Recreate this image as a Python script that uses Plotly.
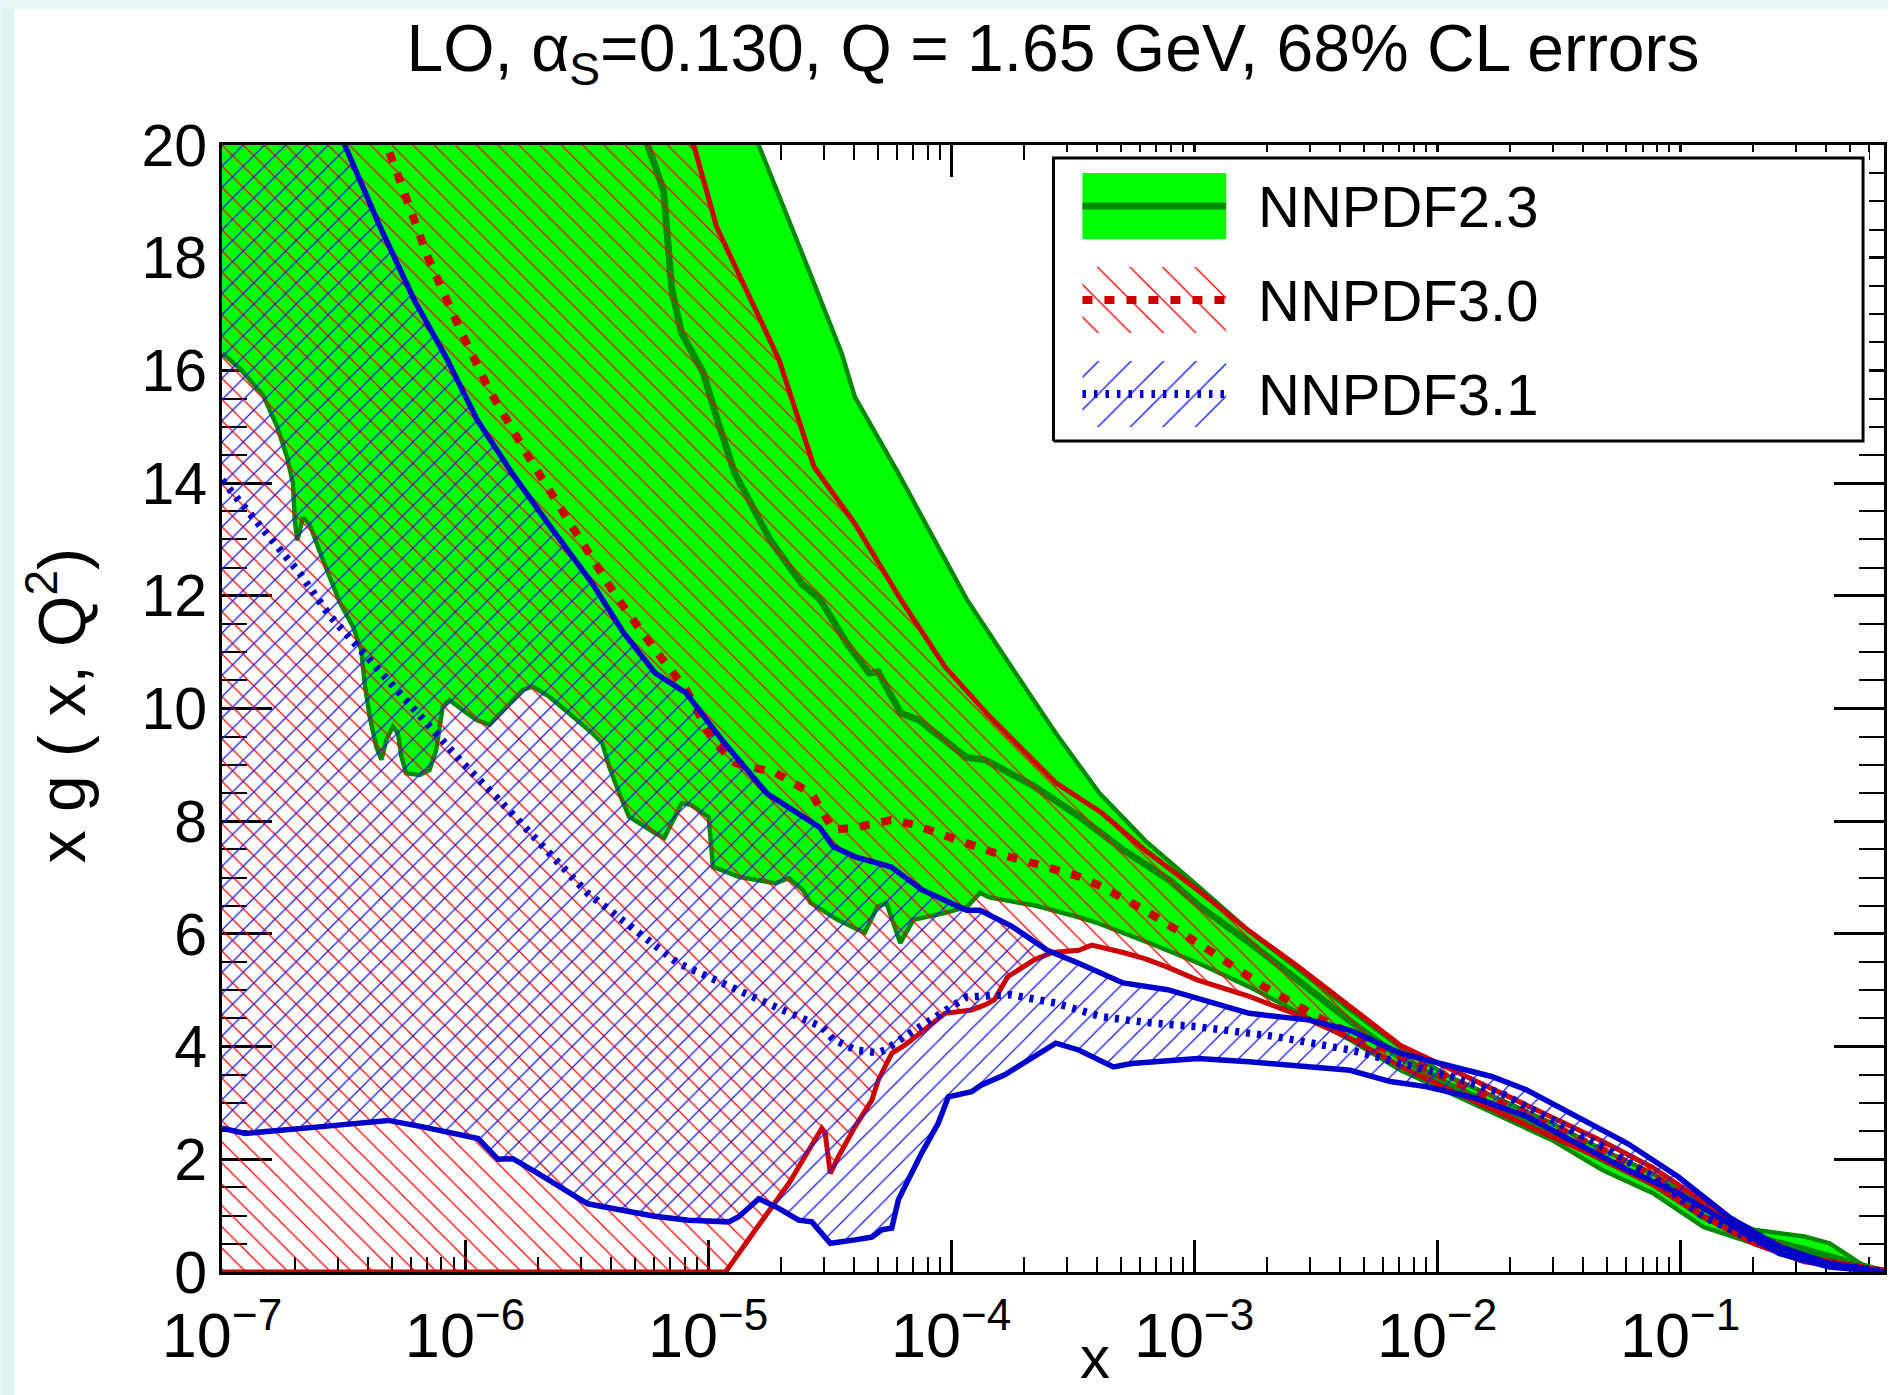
import math
import plotly.graph_objects as go

# ---------------- data : log10(x) and x*g(x,Q^2) ----------------
# NNPDF2.3 (green band)
g23_lo_lx = [-7.0, -6.926, -6.831, -6.774, -6.733, -6.708, -6.700, -6.690, -6.667, -6.639, -6.585, -6.516,
             -6.461, -6.427, -6.413, -6.392, -6.365, -6.344, -6.324, -6.297, -6.276, -6.262, -6.242, -6.187,
             -6.146, -6.119, -6.092, -6.064, -6.009, -5.954, -5.900, -5.831, -5.763, -5.722, -5.654, -5.571,
             -5.476, -5.435, -5.407, -5.366, -5.325, -5.218, -5.181, -5.108, -5.071, -4.997, -4.980, -4.870,
             -4.722, -4.668, -4.610, -4.578, -4.467, -4.356, -4.303, -4.266, -4.209, -4.155, -4.028, -3.934,
             -3.880, -3.843, -3.650, -3.478, -3.396, -3.190, -2.981, -2.773, -2.565, -2.358, -2.150, -1.943,
             -1.735, -1.527, -1.320, -1.112, -0.904, -0.697, -0.489, -0.160]
g23_lo_y = [16.31, 16.03, 15.56, 15.01, 14.47, 14.00, 13.32, 12.98, 13.39, 13.26, 12.64, 11.89,
            11.45, 11.04, 10.45, 9.85, 9.32, 9.09, 9.44, 9.68, 9.56, 9.15, 8.85, 8.82,
            8.91, 9.26, 10.03, 10.15, 9.97, 9.80, 9.71, 10.03, 10.33, 10.39, 10.21, 9.91,
            9.56, 9.38, 8.97, 8.50, 8.08, 7.79, 7.70, 8.32, 8.29, 8.07, 7.19, 7.01,
            6.90, 6.99, 6.78, 6.55, 6.25, 6.02, 6.48, 6.55, 5.84, 6.25, 6.37, 6.48,
            6.73, 6.65, 6.50, 6.30, 6.19, 5.85, 5.48, 5.06, 4.59, 4.12, 3.58, 3.17,
            2.76, 2.34, 1.81, 1.40, 0.80, 0.51, 0.21, 0.00]
g23_up_lx = [-7.0, -6.0, -5.3, -4.95, -4.792, -4.728, -4.579, -4.450, -4.396, -4.218, -3.936, -3.752,
             -3.569, -3.390, -3.200, -2.985, -2.773, -2.565, -2.358, -2.150, -1.943, -1.735, -1.527,
             -1.320, -1.112, -0.904, -0.697, -0.489, -0.385, -0.240, -0.160]
g23_up_y = [75.0, 42.0, 27.0, 21.8, 20.0, 19.32, 17.71, 16.30, 15.53, 14.18, 11.94, 10.74,
            9.56, 8.50, 7.65, 6.85, 6.05, 5.35, 4.65, 3.98, 3.45, 3.05, 2.64,
            2.17, 1.75, 1.16, 0.75, 0.63, 0.51, 0.10, 0.00]
g23_c_lx = [-7.0, -6.2, -5.6, -5.248, -5.183, -5.149, -5.109, -5.020, -4.965, -4.891, -4.743, -4.614,
            -4.540, -4.431, -4.337, -4.300, -4.208, -4.134, -3.936, -3.861, -3.658, -3.475, -3.292,
            -3.100, -2.981, -2.773, -2.565, -2.358, -2.150, -1.943, -1.735, -1.527, -1.320, -1.112,
            -0.904, -0.697, -0.489, -0.160]
g23_c_y = [42.0, 29.0, 22.5, 20.0, 19.19, 17.43, 16.66, 15.96, 15.17, 14.18, 12.98, 12.21,
           11.94, 11.17, 10.63, 10.65, 9.92, 9.80, 9.13, 9.09, 8.62, 8.09, 7.49,
           6.95, 6.50, 5.85, 5.15, 4.45, 3.80, 3.30, 2.90, 2.50, 2.00, 1.58,
           0.98, 0.63, 0.40, 0.00]

# NNPDF3.0 (red hatched band)
r30_up_lx = [-7.0, -6.0, -5.4, -5.059, -4.965, -4.708, -4.564, -4.396, -4.208, -4.025, -3.842, -3.569,
             -3.381, -3.203, -2.985, -2.773, -2.565, -2.358, -2.150, -1.943, -1.735, -1.527, -1.320,
             -1.112, -0.904, -0.697, -0.489, -0.160]
r30_up_y = [55.0, 33.0, 23.5, 20.0, 18.55, 16.19, 14.29, 13.28, 11.94, 10.74, 9.86, 8.68,
            8.15, 7.49, 6.78, 6.05, 5.40, 4.70, 4.02, 3.60, 3.18, 2.74, 2.32,
            1.85, 1.25, 0.68, 0.27, 0.02]
r30_lo_lx = [-7.0, -4.928, -4.805, -4.668, -4.532, -4.518, -4.497, -4.463, -4.395, -4.326, -4.299, -4.244,
             -4.189, -4.080, -4.025, -3.916, -3.861, -3.822, -3.767, -3.658, -3.584, -3.475, -3.421,
             -3.292, -3.203, -3.109, -2.985, -2.773, -2.565, -2.358, -2.150, -1.943, -1.735, -1.527,
             -1.320, -1.112, -0.904, -0.697, -0.489, -0.160]
r30_lo_y = [0.0, 0.0, 0.75, 1.57, 2.55, 2.46, 1.75, 2.05, 2.58, 3.05, 3.41, 3.88,
            4.03, 4.41, 4.59, 4.65, 4.74, 4.83, 5.24, 5.54, 5.67, 5.71, 5.80,
            5.67, 5.56, 5.41, 5.18, 4.89, 4.55, 4.15, 3.65, 3.22, 2.80, 2.40,
            2.00, 1.55, 0.98, 0.50, 0.18, 0.00]
r30_c_lx = [-7.0, -6.6, -6.322, -6.228, -6.153, -6.025, -5.901, -5.738, -5.569, -5.380, -5.218, -5.089,
            -4.980, -4.886, -4.723, -4.574, -4.485, -4.391, -4.248, -4.153, -3.970, -3.822, -3.658,
            -3.475, -3.381, -3.203, -2.985, -2.711, -2.462, -2.150, -1.943, -1.735, -1.527, -1.320,
            -1.112, -0.904, -0.697, -0.489, -0.160]
r30_c_y = [34.0, 25.0, 20.0, 18.91, 18.01, 16.77, 15.66, 14.46, 13.28, 12.00, 11.04, 10.33,
           9.43, 9.03, 8.86, 8.49, 7.85, 7.89, 8.02, 7.94, 7.66, 7.44, 7.25,
           7.02, 6.84, 6.42, 5.84, 5.06, 4.45, 3.83, 3.41, 2.99, 2.57, 2.16,
           1.70, 1.11, 0.59, 0.22, 0.01]

# NNPDF3.1 (blue hatched band)
b31_up_lx = [-7.0, -6.75, -6.495, -6.356, -6.208, -6.079, -5.950, -5.807, -5.658, -5.475, -5.347, -5.218,
             -5.089, -4.941, -4.757, -4.540, -4.485, -4.391, -4.248, -4.119, -3.936, -3.881, -3.752,
             -3.604, -3.475, -3.292, -3.109, -2.985, -2.773, -2.524, -2.358, -2.150, -1.943, -1.776,
             -1.631, -1.424, -1.216, -1.008, -0.800, -0.593, -0.385, -0.160]
b31_up_y = [34.0, 25.0, 20.0, 18.61, 17.24, 16.24, 15.12, 14.18, 13.28, 12.21, 11.34, 10.63,
            10.27, 9.43, 8.49, 7.89, 7.55, 7.36, 7.19, 6.78, 6.42, 6.42, 6.14,
            5.71, 5.48, 5.13, 5.01, 4.86, 4.59, 4.47, 4.29, 3.88, 3.64, 3.47,
            3.23, 2.76, 2.28, 1.69, 0.98, 0.45, 0.15, 0.00]
b31_lo_lx = [-7.0, -6.904, -6.589, -6.316, -6.179, -5.946, -5.864, -5.803, -5.700, -5.495, -5.358, -5.221,
             -5.079, -4.915, -4.874, -4.791, -4.709, -4.627, -4.573, -4.497, -4.395, -4.326, -4.285,
             -4.244, -4.217, -4.121, -4.053, -4.011, -3.916, -3.875, -3.779, -3.642, -3.569, -3.475,
             -3.332, -3.257, -3.144, -2.985, -2.773, -2.358, -2.192, -2.046, -1.839, -1.631, -1.424,
             -1.216, -1.008, -0.800, -0.593, -0.385, -0.160]
b31_lo_y = [2.55, 2.46, 2.58, 2.69, 2.58, 2.37, 2.00, 2.01, 1.75, 1.21, 1.10, 0.99,
            0.92, 0.89, 0.98, 1.30, 1.13, 0.92, 0.89, 0.51, 0.57, 0.62, 0.75,
            0.78, 1.28, 2.11, 2.64, 3.11, 3.20, 3.32, 3.50, 3.85, 4.06, 3.94,
            3.64, 3.70, 3.74, 3.79, 3.73, 3.58, 3.38, 3.29, 3.08, 2.76, 2.28,
            1.81, 1.40, 0.86, 0.33, 0.09, 0.00]
b31_c_lx = [-7.0, -6.953, -6.817, -6.680, -6.557, -6.420, -6.283, -6.146, -6.009, -5.872, -5.736, -5.626,
            -5.495, -5.124, -4.757, -4.532, -4.485, -4.395, -4.302, -4.271, -4.208, -4.080, -3.936,
            -3.752, -3.569, -3.381, -3.203, -2.981, -2.669, -2.358, -2.150, -1.943, -1.735, -1.527,
            -1.320, -1.112, -0.904, -0.697, -0.489, -0.160]
b31_c_y = [14.05, 13.80, 13.12, 12.40, 11.65, 11.00, 10.33, 9.68, 9.03, 8.43, 7.79, 7.31,
           6.72, 5.48, 4.77, 4.35, 4.13, 3.94, 3.89, 3.94, 4.13, 4.47, 4.88,
           4.92, 4.77, 4.53, 4.43, 4.35, 4.18, 3.94, 3.70, 3.47, 3.17, 2.70,
           2.23, 1.69, 0.98, 0.57, 0.21, 0.00]

# axis ticks / labels
x_tick_vals = [1e-7, 1e-6, 1e-5, 1e-4, 1e-3, 1e-2, 1e-1]
x_tick_text = ["10<sup>\u22127</sup>", "10<sup>\u22126</sup>", "10<sup>\u22125</sup>", "10<sup>\u22124</sup>",
               "10<sup>\u22123</sup>", "10<sup>\u22122</sup>", "10<sup>\u22121</sup>"]
x_max = 0.69
legend_names = ["NNPDF2.3", "NNPDF3.0", "NNPDF3.1"]
title_text = "LO, \u03b1<sub>S</sub>=0.130, Q = 1.65 GeV, 68% CL errors"

# ---------------- styles ----------------
GREEN = "#00FF00"
DGREEN = "#008A00"
RED = "#CC0000"
HRED = "#FF0000"
BLUE = "#0000CC"
HBLUE = "#1414FF"
FONT = "Liberation Sans, Arial, Helvetica, sans-serif"

W, H = 1891, 1395
L, R, T, B = 222, 4, 145, 123
PW, PH = W - L - R, H - T - B


def xs(lx):
    return [10 ** v for v in lx]


def band(lo_lx, lo_y, up_lx, up_y):
    return xs(lo_lx) + xs(up_lx)[::-1], lo_y + up_y[::-1]


fig = go.Figure()


def line(lx, y, color, width, dash="solid"):
    fig.add_trace(go.Scatter(x=xs(lx), y=y, mode="lines", line=dict(color=color, width=width, dash=dash),
                             hoverinfo="skip", showlegend=False))


def hatch(shape, color, size, solidity):
    return dict(shape=shape, fgcolor=color, bgcolor="rgba(0,0,0,0)", size=size, solidity=solidity,
                fillmode="replace")


# NNPDF2.3
bx, by = band(g23_lo_lx, g23_lo_y, g23_up_lx, g23_up_y)
fig.add_trace(go.Scatter(x=bx, y=by, fill="toself", fillcolor=GREEN, mode="lines",
                         line=dict(width=0, color=GREEN), hoverinfo="skip", showlegend=False))
line(g23_lo_lx, g23_lo_y, DGREEN, 4.5)
line(g23_up_lx, g23_up_y, DGREEN, 4.5)
line(g23_c_lx, g23_c_y, DGREEN, 7)

# NNPDF3.0
bx, by = band(r30_lo_lx, r30_lo_y, r30_up_lx, r30_up_y)
fig.add_trace(go.Scatter(x=bx, y=by, fill="toself", fillcolor="rgba(0,0,0,0)", mode="lines",
                         line=dict(width=0, color="rgba(0,0,0,0)"), fillpattern=hatch("\\", HRED, 15, 0.085),
                         hoverinfo="skip", showlegend=False))
line(r30_lo_lx, r30_lo_y, RED, 5)
line(r30_up_lx, r30_up_y, RED, 5)
line(r30_c_lx, r30_c_y, RED, 8, "10px,12px")

# NNPDF3.1
bx, by = band(b31_lo_lx, b31_lo_y, b31_up_lx, b31_up_y)
fig.add_trace(go.Scatter(x=bx, y=by, fill="toself", fillcolor="rgba(0,0,0,0)", mode="lines",
                         line=dict(width=0, color="rgba(0,0,0,0)"), fillpattern=hatch("/", HBLUE, 15, 0.085),
                         hoverinfo="skip", showlegend=False))
line(b31_lo_lx, b31_lo_y, BLUE, 5.5)
line(b31_up_lx, b31_up_y, BLUE, 5.5)
line(b31_c_lx, b31_c_y, BLUE, 7.5, "4px,7px")

# ---------------- legend (drawn on an auxiliary pixel-unit axis pair) ----------------
LB_X0, LB_Y0, LB_W, LB_H = 1055, 158, 811, 283   # legend box in page pixels
PAD = 6
dom_x = [(LB_X0 - PAD - L) / PW, (LB_X0 + LB_W + PAD - L) / PW]
dom_y = [(H - B - (LB_Y0 + LB_H + PAD)) / PH, (H - B - (LB_Y0 - PAD)) / PH]


def leg_rect(u0, u1, v0, v1):
    return [u0, u1, u1, u0, u0], [v0, v0, v1, v1, v0]


ux, uy = leg_rect(0, LB_W, 0, LB_H)
fig.add_trace(go.Scatter(x=ux, y=uy, xaxis="x2", yaxis="y2", fill="toself", fillcolor="white", mode="lines",
                         line=dict(color="black", width=3), hoverinfo="skip", showlegend=False))
sw_u0, sw_u1 = 29, 173
rows_v = [235, 141, 47]
sw_half = 33
# green
ux, uy = leg_rect(sw_u0, sw_u1, rows_v[0] - sw_half, rows_v[0] + sw_half)
fig.add_trace(go.Scatter(x=ux, y=uy, xaxis="x2", yaxis="y2", fill="toself", fillcolor=GREEN, mode="lines",
                         line=dict(width=0, color=GREEN), hoverinfo="skip", showlegend=False))
fig.add_trace(go.Scatter(x=[sw_u0, sw_u1], y=[rows_v[0]] * 2, xaxis="x2", yaxis="y2", mode="lines",
                         line=dict(color=DGREEN, width=7), hoverinfo="skip", showlegend=False))
# red
ux, uy = leg_rect(sw_u0, sw_u1, rows_v[1] - sw_half, rows_v[1] + sw_half)
fig.add_trace(go.Scatter(x=ux, y=uy, xaxis="x2", yaxis="y2", fill="toself", fillcolor="rgba(0,0,0,0)",
                         mode="lines", line=dict(width=0, color="rgba(0,0,0,0)"),
                         fillpattern=hatch("\\", HRED, 23, 0.06), hoverinfo="skip", showlegend=False))
fig.add_trace(go.Scatter(x=[sw_u0, sw_u1], y=[rows_v[1]] * 2, xaxis="x2", yaxis="y2", mode="lines",
                         line=dict(color=RED, width=8, dash="10px,12px"), hoverinfo="skip", showlegend=False))
# blue
ux, uy = leg_rect(sw_u0, sw_u1, rows_v[2] - sw_half, rows_v[2] + sw_half)
fig.add_trace(go.Scatter(x=ux, y=uy, xaxis="x2", yaxis="y2", fill="toself", fillcolor="rgba(0,0,0,0)",
                         mode="lines", line=dict(width=0, color="rgba(0,0,0,0)"),
                         fillpattern=hatch("/", HBLUE, 23, 0.06), hoverinfo="skip", showlegend=False))
fig.add_trace(go.Scatter(x=[sw_u0, sw_u1], y=[rows_v[2]] * 2, xaxis="x2", yaxis="y2", mode="lines",
                         line=dict(color=BLUE, width=8, dash="3.5px,8px"), hoverinfo="skip", showlegend=False))

annotations = []
for name, v in zip(legend_names, rows_v):
    annotations.append(dict(text=name, x=203, y=v, xref="x2", yref="y2", xanchor="left", yanchor="middle",
                            showarrow=False, font=dict(size=58, color="black", family=FONT)))

# axis titles
annotations.append(dict(text="x", x=(1097 - L) / PW, y=(H - B - 1393) / PH, xref="paper", yref="paper",
                        xanchor="center", yanchor="bottom", showarrow=False,
                        font=dict(size=60, color="black", family=FONT)))
annotations.append(dict(text="x g ( x, Q<sup>2</sup>)", x=(57 - L) / PW, y=(H - B - 706) / PH, xref="paper",
                        yref="paper", xanchor="center", yanchor="middle", textangle=-90, showarrow=False,
                        font=dict(size=66, color="black", family=FONT)))

minor_x = [k * 10 ** e for e in range(-7, 0) for k in range(2, 10) if k * 10 ** e < x_max]

# background strips of the slide
shapes = [
    dict(type="rect", xref="paper", yref="paper", x0=-L / PW, x1=(14 - L) / PW, y0=-B / PH, y1=(H - B) / PH,
         fillcolor="#DFF2F4", line=dict(width=0), layer="below"),
    dict(type="rect", xref="paper", yref="paper", x0=-L / PW, x1=(W - L) / PW, y0=(H - B - 9) / PH,
         y1=(H - B) / PH, fillcolor="#E8F6F7", line=dict(width=0), layer="below"),
]

fig.update_layout(
    width=W, height=H, autosize=False,
    margin=dict(l=L, r=R, t=T, b=B, pad=0),
    paper_bgcolor="white", plot_bgcolor="white",
    font=dict(family=FONT, color="black"),
    title=dict(text=title_text, x=0.5, xref="paper", xanchor="center", y=1 - 48 / H, yref="container",
               yanchor="middle", font=dict(size=66, family=FONT, color="black")),
    xaxis=dict(type="log", range=[-7, math.log10(x_max)], showline=True, linecolor="black", linewidth=3,
               mirror="allticks", ticks="inside", ticklen=32, tickwidth=2.5, tickcolor="black",
               tickmode="array", tickvals=x_tick_vals, ticktext=x_tick_text, ticklabelstandoff=6,
               tickfont=dict(size=63, family=FONT, color="black"),
               showgrid=False, zeroline=False, layer="below traces",
               minor=dict(ticks="inside", ticklen=15, tickwidth=2, tickcolor="black", tickmode="array",
                          tickvals=minor_x, showgrid=False)),
    yaxis=dict(range=[0, 20], tick0=0, dtick=2, showline=True, linecolor="black", linewidth=3,
               mirror="allticks", ticks="inside", ticklen=50, tickwidth=2.5, tickcolor="black",
               tickfont=dict(size=59, family=FONT, color="black"),
               showgrid=False, zeroline=False, layer="below traces",
               minor=dict(ticks="inside", ticklen=25, tickwidth=2, tickcolor="black", dtick=0.5,
                          showgrid=False)),
    xaxis2=dict(domain=dom_x, range=[-PAD, LB_W + PAD], visible=False, anchor="y2", fixedrange=True),
    yaxis2=dict(domain=dom_y, range=[-PAD, LB_H + PAD], visible=False, anchor="x2", fixedrange=True),
    annotations=annotations,
    shapes=shapes,
    showlegend=False,
)

fig.write_html("out.html", config={"displayModeBar": False},
               post_script="document.body.style.margin='0px';")
